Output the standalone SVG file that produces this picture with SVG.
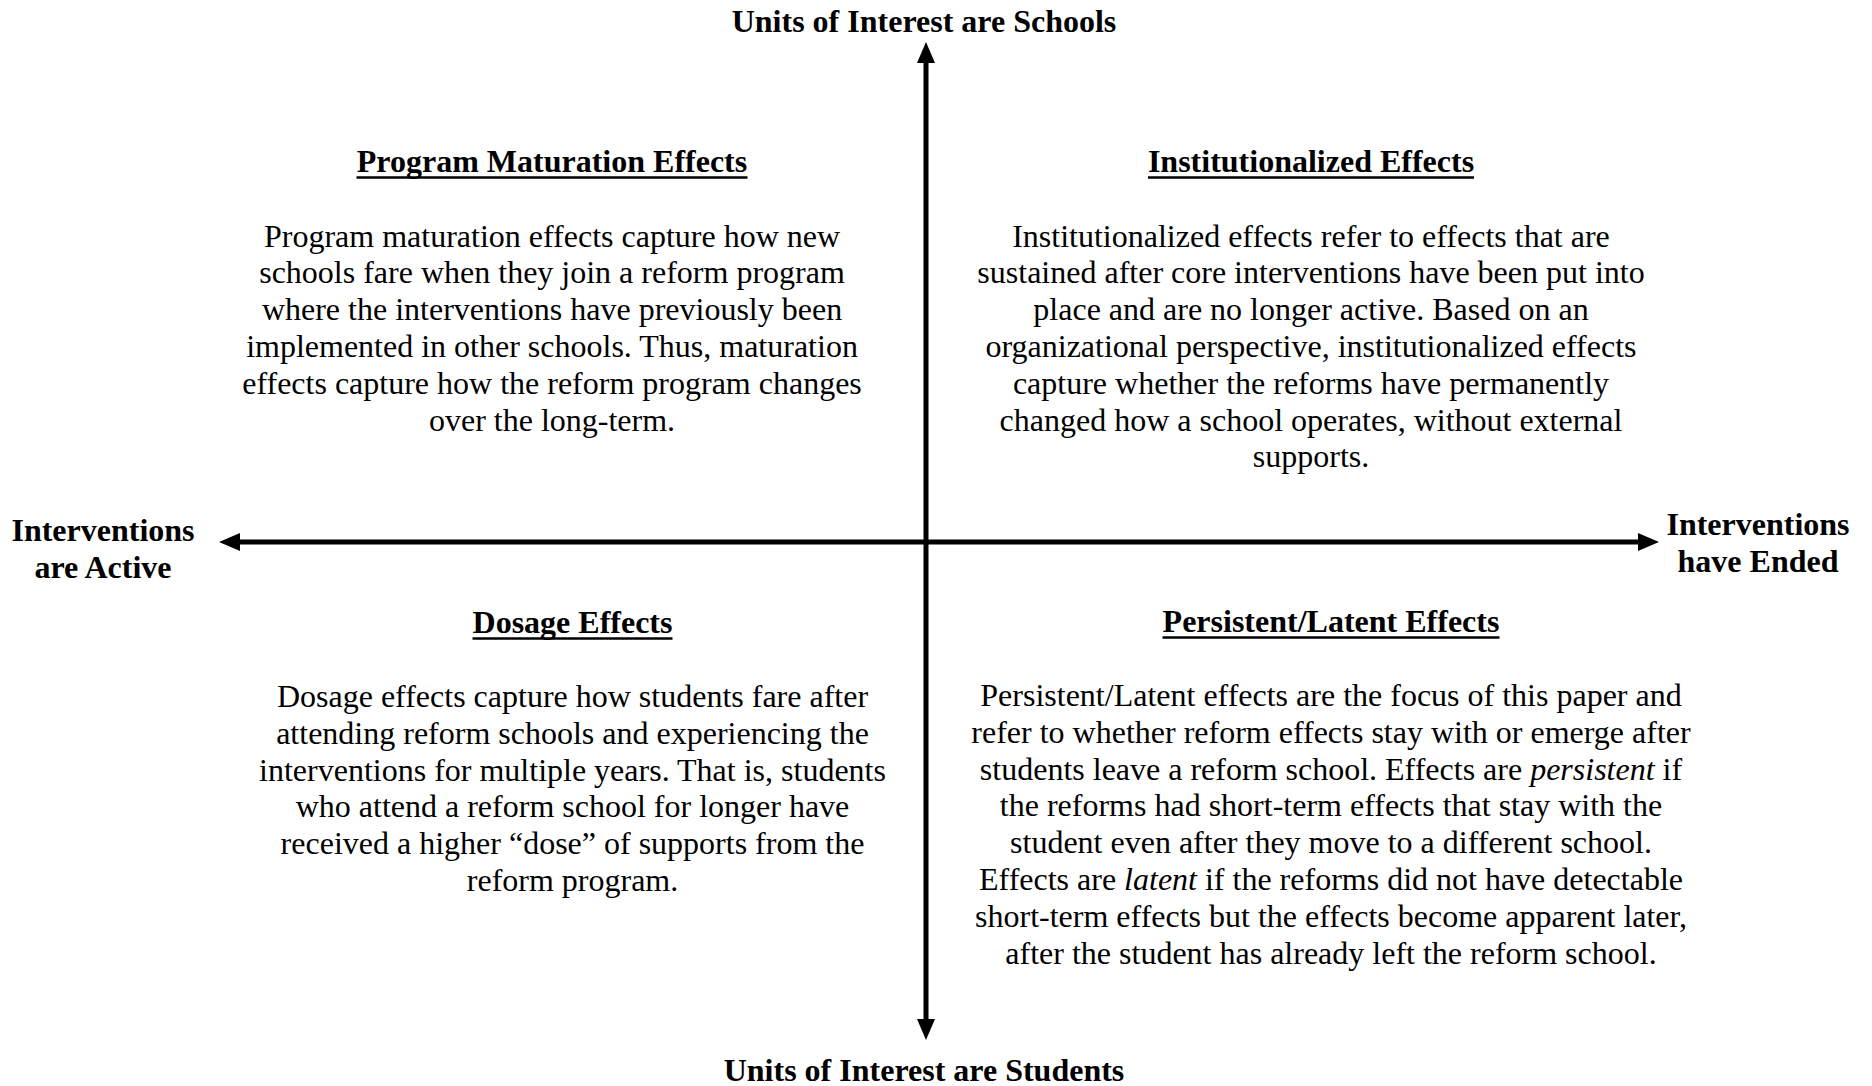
<svg xmlns="http://www.w3.org/2000/svg" width="1872" height="1086" viewBox="0 0 1872 1086">
<style>
text{font-family:"Liberation Serif","Times New Roman",serif;font-size:32px;fill:#000;text-anchor:middle}
.b{font-weight:bold}
.ul{stroke:#000;stroke-width:2.5}
.ax{stroke:#000;stroke-width:5;fill:none}
</style>
<defs>
<marker id="ah" markerUnits="userSpaceOnUse" markerWidth="22" markerHeight="20" refX="0" refY="9" orient="auto-start-reverse" viewBox="0 0 22 20">
<path d="M0,0 L21,9 L0,18 z" fill="#000"/>
</marker>
</defs>
<rect width="1872" height="1086" fill="#fff"/>
<g id="connectors">
<line class="ax" x1="926" y1="63" x2="926" y2="1019" marker-start="url(#ah)" marker-end="url(#ah)"/>
<line class="ax" x1="240" y1="542" x2="1638" y2="542" marker-start="url(#ah)" marker-end="url(#ah)"/>
</g>
<g id="label-top"><text class="b" x="924" y="32">Units of Interest are Schools</text></g>
<g id="label-bottom"><text class="b" x="924" y="1081">Units of Interest are Students</text></g>
<g id="label-left"><text class="b" x="103" y="541">Interventions</text><text class="b" x="103" y="578">are Active</text></g>
<g id="label-right"><text class="b" x="1758" y="535">Interventions</text><text class="b" x="1758" y="572">have Ended</text></g>
<g id="q-program-maturation">
<text class="b" x="552" y="172">Program Maturation Effects</text>
<line class="ul" x1="356.5" y1="177.5" x2="747.5" y2="177.5"/>
<text x="552" y="246.5">Program maturation effects capture how new</text>
<text x="552" y="283.3">schools fare when they join a reform program</text>
<text x="552" y="320.1">where the interventions have previously been</text>
<text x="552" y="356.9">implemented in other schools. Thus, maturation</text>
<text x="552" y="393.7">effects capture how the reform program changes</text>
<text x="552" y="430.5">over the long-term.</text>
</g>
<g id="q-institutionalized">
<text class="b" x="1311" y="172">Institutionalized Effects</text>
<line class="ul" x1="1148" y1="177.5" x2="1474" y2="177.5"/>
<text x="1311" y="246.5">Institutionalized effects refer to effects that are</text>
<text x="1311" y="283.3">sustained after core interventions have been put into</text>
<text x="1311" y="320.1">place and are no longer active. Based on an</text>
<text x="1311" y="356.9">organizational perspective, institutionalized effects</text>
<text x="1311" y="393.7">capture whether the reforms have permanently</text>
<text x="1311" y="430.5">changed how a school operates, without external</text>
<text x="1311" y="467.3">supports.</text>
</g>
<g id="q-dosage">
<text class="b" x="572.5" y="633">Dosage Effects</text>
<line class="ul" x1="472.5" y1="638.5" x2="672.5" y2="638.5"/>
<text x="572.5" y="707">Dosage effects capture how students fare after</text>
<text x="572.5" y="743.8">attending reform schools and experiencing the</text>
<text x="572.5" y="780.6">interventions for multiple years. That is, students</text>
<text x="572.5" y="817.4">who attend a reform school for longer have</text>
<text x="572.5" y="854.2">received a higher “dose” of supports from the</text>
<text x="572.5" y="891">reform program.</text>
</g>
<g id="q-persistent-latent">
<text class="b" x="1331" y="632">Persistent/Latent Effects</text>
<line class="ul" x1="1162.5" y1="637.5" x2="1499.5" y2="637.5"/>
<text x="1331" y="706">Persistent/Latent effects are the focus of this paper and</text>
<text x="1331" y="742.8">refer to whether reform effects stay with or emerge after</text>
<text x="1331" y="779.6">students leave a reform school. Effects are <tspan font-style="italic">persistent</tspan> if</text>
<text x="1331" y="816.4">the reforms had short-term effects that stay with the</text>
<text x="1331" y="853.2">student even after they move to a different school.</text>
<text x="1331" y="890">Effects are <tspan font-style="italic">latent</tspan> if the reforms did not have detectable</text>
<text x="1331" y="926.8">short-term effects but the effects become apparent later,</text>
<text x="1331" y="963.6">after the student has already left the reform school.</text>
</g>
</svg>
